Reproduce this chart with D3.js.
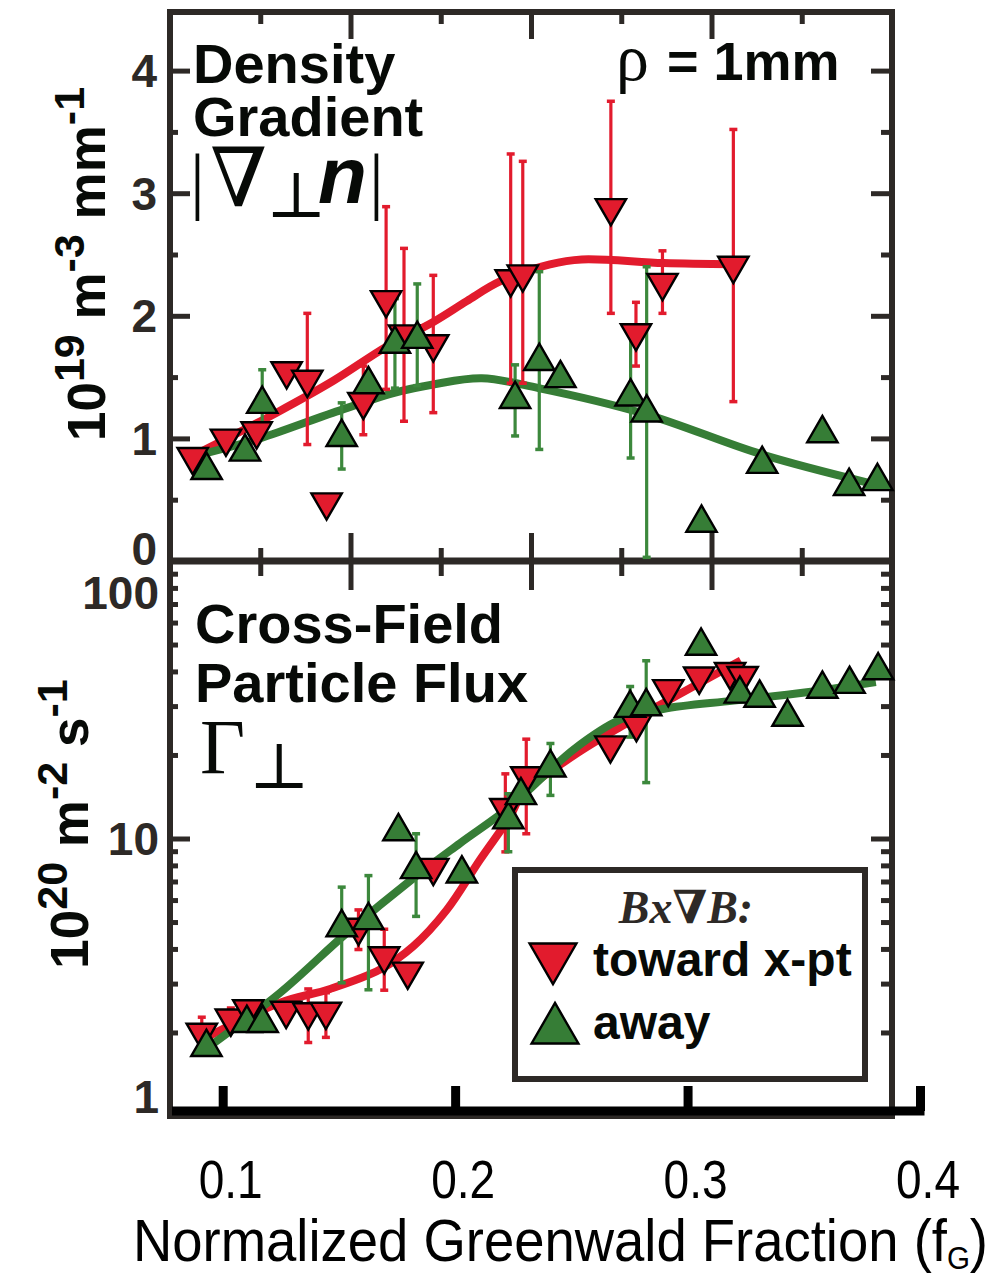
<!DOCTYPE html>
<html><head><meta charset="utf-8">
<script src="https://cdn.jsdelivr.net/npm/d3@7"></script>
<style>body{margin:0;background:#fff}svg{display:block}</style>
</head><body>
<svg id="c" width="1005" height="1280"></svg>
<script>
// ---------- DATA ----------
const xTickValues = [0.1, 0.2, 0.3, 0.4];
const topMajorTicks = [1, 2, 3, 4];
const topMinorTicks = [0.5, 1.5, 2.5, 3.5];
const topTickLabels = [0, 1, 2, 3, 4];
const botMajorTicks = [10];
const botMinorTicks = [2, 3, 4, 5, 6, 7, 8, 9, 20, 30, 40, 50, 60, 70, 80, 90];
const botTickLabels = [1, 10, 100];
const frameShortTicks = [1, 3, 5, 7];
const frameLongTicks = [2, 4, 6];

// density gradient, toward x-pt: [fG, value, low, high]
const gradToward = [
  [0.0871, 0.85, null, null], [0.1014, 1.00, null, null], [0.1146, 1.06, null, null],
  [0.1275, 1.55, null, null], [0.1364, 1.48, 0.95, 2.02], [0.1447, 0.48, null, null],
  [0.1605, 1.30, 1.03, 1.59], [0.1703, 2.13, 1.40, 2.89], [0.1780, 1.85, 1.14, 2.55],
  [0.1906, 1.77, 1.21, 2.33], [0.2239, 2.30, 1.45, 3.32], [0.2291, 2.34, 1.45, 3.26],
  [0.2670, 2.88, 2.02, 3.75], [0.2778, 1.86, 1.59, 2.11], [0.2892, 2.27, 2.02, 2.53],
  [0.3197, 2.41, 1.30, 3.52]
];
// density gradient, away
const gradAway = [
  [0.0931, 0.74, null, null], [0.1096, 0.89, null, null], [0.1170, 1.28, 1.06, 1.56],
  [0.1512, 1.01, 0.75, 1.29], [0.1627, 1.44, null, null], [0.1741, 1.77, 1.41, 2.14],
  [0.1837, 1.81, 1.43, 2.26], [0.2258, 1.32, 1.02, 1.60], [0.2362, 1.63, 0.91, 2.36],
  [0.2453, 1.49, null, null], [0.2755, 1.34, 0.84, 1.87], [0.2824, 1.21, 0.03, 2.40],
  [0.3060, 0.31, null, null], [0.3321, 0.79, null, null], [0.3580, 1.04, null, null],
  [0.3695, 0.61, null, null], [0.3817, 0.65, null, null]
];
const gradTowardFit = [[0.0916,0.90],[0.1232,1.21],[0.1476,1.47],[0.1706,1.75],[0.1906,1.95],[0.2050,2.12],[0.2193,2.28],[0.2408,2.42],[0.2545,2.46],[0.2897,2.43],[0.3196,2.42]];
const gradAwayFit = [[0.0928,0.88],[0.1160,1.00],[0.1476,1.21],[0.1734,1.37],[0.1906,1.44],[0.2115,1.49],[0.2359,1.41],[0.2816,1.20],[0.3318,0.87],[0.3775,0.64]];

// particle flux, toward x-pt
const fluxToward = [
  [0.0910, 2.00, 1.78, 2.27], [0.1035, 2.25, 2.05, 2.45], [0.1110, 2.43, null, null],
  [0.1273, 2.40, null, null], [0.1368, 2.37, 1.84, 2.87], [0.1444, 2.38, 1.92, 2.78],
  [0.1584, 4.78, 3.98, 5.53], [0.1695, 3.77, 2.84, 4.71], [0.1796, 3.32, null, null],
  [0.1906, 7.85, null, null], [0.2216, 12.9, 8.95, 17.1], [0.2306, 16.8, 10.4, 22.8],
  [0.2668, 21.7, null, null], [0.2780, 25.9, null, null], [0.2917, 34.6, null, null],
  [0.3050, 38.4, null, null], [0.3183, 39.9, null, null], [0.3237, 38.6, null, null]
];
// particle flux, away
const fluxAway = [
  [0.0930, 1.77, null, null], [0.1104, 2.16, null, null], [0.1172, 2.16, null, null],
  [0.1512, 4.78, 3.02, 6.68], [0.1627, 5.07, 2.85, 7.35], [0.1756, 10.6, null, null],
  [0.1832, 7.74, 5.24, 10.4], [0.2029, 7.47, null, null], [0.2229, 11.7, 8.96, 14.5],
  [0.2283, 14.3, null, null], [0.2410, 18.0, 14.3, 22.0], [0.2753, 29.5, 23.2, 35.3],
  [0.2822, 29.9, 15.9, 43.7], [0.3058, 49.4, null, null], [0.3225, 33.2, null, null],
  [0.3310, 32.1, null, null], [0.3430, 27.4, null, null], [0.3580, 34.6, null, null],
  [0.3697, 36.0, null, null], [0.3820, 40.3, null, null]
];
const fluxTowardFit = [[0.0930,1.92],[0.1247,2.56],[0.1462,2.87],[0.1677,3.37],[0.1820,4.09],[0.1964,5.53],[0.2107,8.38],[0.2236,11.98],[0.2290,14.5],[0.2512,19.95],[0.2710,25.2],[0.2863,29.7],[0.3046,36.1],[0.3229,43.8]];
const fluxAwayFit = [[0.0930,1.75],[0.1247,2.78],[0.1533,4.56],[0.1820,7.19],[0.2020,9.6],[0.2236,13.0],[0.2512,21.0],[0.2710,26.8],[0.2894,29.3],[0.3199,31.4],[0.3504,33.6],[0.3810,36.6]];

const legendTitle = "Bx\u2207B:";
const legendLabels = ["toward x-pt", "away"];
const xTitle = "Normalized Greenwald Fraction (f";
const xTitleSub = "G";

// ---------- STYLE ----------
const RED = "#e21b2d", GREEN = "#367d36", GREEN_BAR = "#3c883c";
const FRAME = "#2d2926", INK = "#070a07";
const SANS = "'Liberation Sans', Arial, Helvetica, sans-serif";
const SERIF = "'Liberation Serif', 'Times New Roman', 'DejaVu Serif', serif";

const svg = d3.select("#c");
const L = 170, R = 892, T = 12, M = 561, B = 1116;
const x = d3.scaleLinear().domain([0.1, 0.4]).range([222.7, 920]);
const yT = d3.scaleLinear().domain([0, 4]).range([M, 70.6]);
const yB = d3.scaleLog().domain([1, 100]).range([B, M]);
const fr = d3.scaleLinear().domain([0, 8]).range([L, R]);

// ---------- FRAME ----------
svg.append("rect").attr("x", L).attr("y", T).attr("width", R - L).attr("height", B - T)
  .attr("fill", "none").attr("stroke", FRAME).attr("stroke-width", 6);
svg.append("line").attr("x1", L).attr("x2", R).attr("y1", M).attr("y2", M)
  .attr("stroke", FRAME).attr("stroke-width", 7);

function tickAxis(axis, tx, ty) {
  const g = svg.append("g").attr("transform", `translate(${tx},${ty})`).attr("color", FRAME).call(axis);
  g.select(".domain").remove();
  g.selectAll(".tick line").attr("stroke-width", 5);
  g.selectAll(".tick text").remove();
  return g;
}
tickAxis(d3.axisBottom(fr).tickValues(frameShortTicks).tickSize(12).tickFormat(""), 0, T);
tickAxis(d3.axisBottom(fr).tickValues(frameLongTicks).tickSize(27).tickFormat(""), 0, T);
tickAxis(d3.axisTop(fr).tickValues(frameShortTicks).tickSize(13).tickFormat(""), 0, M);
tickAxis(d3.axisTop(fr).tickValues(frameLongTicks).tickSize(28).tickFormat(""), 0, M);
tickAxis(d3.axisBottom(fr).tickValues(frameShortTicks).tickSize(15).tickFormat(""), 0, M);
tickAxis(d3.axisBottom(fr).tickValues(frameLongTicks).tickSize(29).tickFormat(""), 0, M);
tickAxis(d3.axisRight(yT).tickValues(topMajorTicks).tickSize(20).tickFormat(""), L, 0);
tickAxis(d3.axisRight(yT).tickValues(topMinorTicks).tickSize(8).tickFormat(""), L, 0);
tickAxis(d3.axisLeft(yT).tickValues(topMajorTicks).tickSize(21).tickFormat(""), R, 0);
tickAxis(d3.axisLeft(yT).tickValues(topMinorTicks).tickSize(11).tickFormat(""), R, 0);
tickAxis(d3.axisRight(yB).tickValues(botMajorTicks).tickSize(20).tickFormat(""), L, 0);
tickAxis(d3.axisRight(yB).tickValues(botMinorTicks).tickSize(8).tickFormat(""), L, 0);
tickAxis(d3.axisLeft(yB).tickValues(botMajorTicks).tickSize(21).tickFormat(""), R, 0);
tickAxis(d3.axisLeft(yB).tickValues(botMinorTicks).tickSize(11).tickFormat(""), R, 0);

const topShift = v => v === 0 ? -12 : 0;
svg.append("g").selectAll("text").data(topTickLabels).join("text")
  .attr("x", 157).attr("y", d => yT(d) + topShift(d)).attr("dy", "0.355em")
  .attr("text-anchor", "end").attr("font-family", SANS).attr("font-weight", "bold")
  .attr("font-size", 46).attr("fill", FRAME).text(d => d);
const botShift = v => v === 1 ? -19 : (v === 100 ? 32 : 0);
svg.append("g").selectAll("text").data(botTickLabels).join("text")
  .attr("x", 159).attr("y", d => yB(d) + botShift(d)).attr("dy", "0.355em")
  .attr("text-anchor", "end").attr("font-family", SANS).attr("font-weight", "bold")
  .attr("font-size", 46).attr("fill", FRAME).text(d => d);

// ---------- DATA MARKS ----------
function drawPanel(y, toward, away, towardFit, awayFit) {
  const line = d3.line().x(d => x(d[0])).y(d => y(d[1])).curve(d3.curveCatmullRom.alpha(0.5));
  [[towardFit, RED], [awayFit, GREEN]].forEach(([data, col]) => {
    svg.append("path").datum(data).attr("d", line).attr("fill", "none")
      .attr("stroke", col).attr("stroke-width", 8).attr("stroke-linecap", "butt");
  });
  [[toward, RED], [away, GREEN_BAR]].forEach(([data, col]) => {
    const bars = svg.append("g").attr("stroke", col);
    const wb = data.filter(d => d[2] !== null);
    bars.selectAll("line.v").data(wb).join("line").attr("class", "v")
      .attr("x1", d => x(d[0])).attr("x2", d => x(d[0]))
      .attr("y1", d => y(d[2])).attr("y2", d => y(d[3])).attr("stroke-width", 3.2);
    bars.selectAll("line.lo").data(wb).join("line").attr("class", "lo")
      .attr("x1", d => x(d[0]) - 4).attr("x2", d => x(d[0]) + 4)
      .attr("y1", d => y(d[2])).attr("y2", d => y(d[2])).attr("stroke-width", 3.5);
    bars.selectAll("line.hi").data(wb).join("line").attr("class", "hi")
      .attr("x1", d => x(d[0]) - 4).attr("x2", d => x(d[0]) + 4)
      .attr("y1", d => y(d[3])).attr("y2", d => y(d[3])).attr("stroke-width", 3.5);
  });
  const tri = d3.symbol(d3.symbolTriangle, 400)();
  svg.append("g").selectAll("path").data(toward).join("path").attr("d", tri)
    .attr("transform", d => `translate(${x(d[0])},${y(d[1])}) rotate(180)`)
    .attr("fill", RED).attr("stroke", "#000").attr("stroke-width", 2.4);
  svg.append("g").selectAll("path").data(away).join("path").attr("d", tri)
    .attr("transform", d => `translate(${x(d[0])},${y(d[1])})`)
    .attr("fill", GREEN).attr("stroke", "#000").attr("stroke-width", 2.4);
}
drawPanel(yT, gradToward, gradAway, gradTowardFit, gradAwayFit);
drawPanel(yB, fluxToward, fluxAway, fluxTowardFit, fluxAwayFit);

// ---------- BOTTOM AXIS ----------
const bx = svg.append("g").attr("transform", `translate(0,1111)`).attr("color", "#000")
  .call(d3.axisTop(x).tickValues(xTickValues).tickSize(25).tickSizeOuter(0).tickFormat(""));
bx.select(".domain").remove();
bx.selectAll(".tick line").attr("stroke-width", 9);
bx.selectAll(".tick text").remove();
svg.append("line").attr("x1", L + 2).attr("x2", x(0.4) + 4.5).attr("y1", 1111).attr("y2", 1111)
  .attr("stroke", "#000").attr("stroke-width", 9);
svg.append("g").selectAll("text").data(xTickValues).join("text")
  .attr("x", d => x(d) + 8).attr("y", 1198).attr("text-anchor", "middle")
  .attr("font-family", SANS).attr("font-size", 54).attr("fill", "#000")
  .attr("textLength", 64).attr("lengthAdjust", "spacingAndGlyphs")
  .text(d3.format(".1f"));
const xt = svg.append("text").attr("x", 133).attr("y", 1261).attr("font-family", SANS)
  .attr("font-size", 59).attr("fill", "#000")
  .attr("textLength", 855).attr("lengthAdjust", "spacingAndGlyphs");
xt.append("tspan").text(xTitle);
xt.append("tspan").attr("font-size", 32).attr("dy", 8).text(xTitleSub);
xt.append("tspan").attr("dy", -8).text(")");

// ---------- Y TITLES ----------
function yTitle(cx, cy, parts) {
  const t = svg.append("text").attr("transform", `translate(${cx},${cy}) rotate(-90)`)
    .attr("text-anchor", "middle").attr("font-family", SANS).attr("font-weight", "bold")
    .attr("font-size", 53).attr("fill", INK);
  parts.forEach(([s, sup], i) => {
    const sp = t.append("tspan").text(s);
    if (sup) sp.attr("font-size", 43).attr("dy", -21);
    else if (i > 0) sp.attr("dy", 21);
  });
}
yTitle(105, 264, [["10"], ["19", true], [" m"], ["-3", true], [" mm"], ["-1", true]]);
yTitle(88, 824, [["10"], ["20", true], [" m"], ["-2", true], [" s"], ["-1", true]]);

// ---------- ANNOTATIONS ----------
const ann = svg.append("g").attr("fill", INK);
function txt(s, px, py, fam, size, weight, style) {
  return ann.append("text").attr("x", px).attr("y", py).attr("font-family", fam)
    .attr("font-size", size).attr("font-weight", weight || "normal")
    .attr("font-style", style || "normal").text(s);
}
txt("Density", 193, 83, SANS, 56, "bold");
txt("Gradient", 193, 136, SANS, 56, "bold");
txt("|", 190, 205, SERIF, 74);
txt("\u2207", 210, 206, "'DejaVu Serif', serif", 82);
txt("\u22A5", 266, 217, "'DejaVu Serif', serif", 64);
txt("n", 318, 203, SANS, 80, "bold", "italic");
txt("|", 369, 205, SERIF, 74);
txt("\u03C1", 616, 80, SERIF, 66);
txt("= 1mm", 667, 80, SANS, 54, "bold");
txt("Cross-Field", 195, 643, SANS, 56, "bold");
txt("Particle Flux", 195, 702, SANS, 56, "bold");
txt("\u0393", 200, 773, SERIF, 78);
txt("\u22A5", 249, 788, "'DejaVu Serif', serif", 64);

// ---------- LEGEND ----------
const lg = svg.append("g");
lg.append("rect").attr("x", 515).attr("y", 870).attr("width", 350).attr("height", 209)
  .attr("fill", "#fff").attr("stroke", FRAME).attr("stroke-width", 6);
lg.append("text").attr("x", 686).attr("y", 923).attr("text-anchor", "middle")
  .attr("font-family", SERIF).attr("font-weight", "bold").attr("font-style", "italic")
  .attr("font-size", 46).attr("fill", FRAME).text(legendTitle);
const bigTri = d3.symbol(d3.symbolTriangle, 950)();
lg.append("path").attr("d", bigTri).attr("transform", "translate(553,957) rotate(180)")
  .attr("fill", RED).attr("stroke", "#000").attr("stroke-width", 2.4);
lg.append("path").attr("d", bigTri).attr("transform", "translate(555,1030)")
  .attr("fill", GREEN).attr("stroke", "#000").attr("stroke-width", 2.4);
lg.selectAll("text.l").data(legendLabels).join("text").attr("class", "l")
  .attr("x", 593).attr("y", (d, i) => 976 + i * 63)
  .attr("font-family", SANS).attr("font-weight", "bold").attr("font-size", 48)
  .attr("fill", INK).text(d => d);
</script>
</body></html>
